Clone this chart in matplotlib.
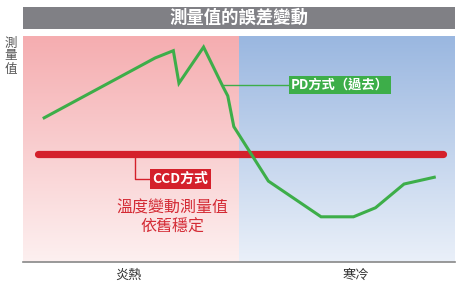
import numpy as np
import matplotlib
matplotlib.use("Agg")
import matplotlib.pyplot as plt
from matplotlib.colors import LinearSegmentedColormap

plt.rcParams['font.family'] = ['Noto Sans CJK TC', 'DejaVu Sans']

# ---- data (x: 0-100 time/temperature axis, y: 0-100 measured value) ----
title = "測量值的誤差變動"
ylabel = "測\n量\n值"
region_labels = ["炎熱", "寒冷"]
region_bounds = [0, 50, 100]
pd_x = [4.9, 30.6, 34.8, 36.1, 41.8, 46.2, 47.4, 48.8, 56.8, 69.0, 76.5, 81.6, 88.2, 95.2]
pd_y = [63.8, 90.3, 93.5, 79.1, 95.1, 77.9, 73.5, 59.9, 35.8, 20.0, 20.0, 24.0, 34.5, 37.5]
ccd_x = [3.5, 97.2]
ccd_y = [47.9, 47.9]
pd_label = "PD方式（過去）"
ccd_label = "CCD方式"
note = "溫度變動測量值\n依舊穩定"

W, H = 461, 288
fig = plt.figure(figsize=(W/100, H/100), dpi=100)
ax = fig.add_axes([23/W, 26/H, 432/W, 226/H])
ax.set_xlim(0, 100)
ax.set_ylim(0, 100)

grad = np.linspace(0, 1, 256).reshape(-1, 1)
pink = LinearSegmentedColormap.from_list("p", ["#FDF0F0", "#F5ADB0"])
blue = LinearSegmentedColormap.from_list("b", ["#EAF0F9", "#9AB7E0"])
ax.imshow(grad, extent=[region_bounds[0], region_bounds[1], 0, 100], origin='lower',
          aspect='auto', cmap=pink, zorder=0)
ax.imshow(grad, extent=[region_bounds[1], region_bounds[2], 0, 100], origin='lower',
          aspect='auto', cmap=blue, zorder=0)

green = "#3DAE49"
red = "#D4202B"

# CCD leader
ax.plot([26.0, 26.0, 30.0], [ccd_y[0], 36.8, 36.8], color=red, lw=1.0, zorder=2)
# PD leader
ax.plot([46.0, 62.0], [78.3, 78.3], color=green, lw=1.0, zorder=2)

ax.plot(ccd_x, ccd_y, color=red, lw=5.2, solid_capstyle='round', zorder=3)
ax.plot(pd_x, pd_y, color=green, lw=2.2, solid_joinstyle='miter', zorder=4)

ax.text(62.0, 78.3, pd_label, color='white', fontsize=9.5, fontweight='bold',
        ha='left', va='center', zorder=5,
        bbox=dict(boxstyle='square,pad=0.17', fc=green, ec='none'))
ax.text(30.0, 36.8, ccd_label, color='white', fontsize=10, fontweight='bold',
        ha='left', va='center', zorder=5,
        bbox=dict(boxstyle='square,pad=0.2', fc=red, ec='none'))
ax.text(34.6, 19.5, note, color="#D42A34", fontsize=11.5, ha='center', va='center',
        linespacing=1.15, zorder=5)

for s in ['top', 'right', 'left']:
    ax.spines[s].set_visible(False)
ax.spines['bottom'].set_color('#888888')
ax.spines['bottom'].set_linewidth(1.2)
ax.set_yticks([])
ax.set_xticks([(region_bounds[0]+region_bounds[1])/2 - 0.5,
               (region_bounds[1]+region_bounds[2])/2 + 2])
ax.set_xticklabels(region_labels, fontsize=9.5, color='#333333')
ax.tick_params(axis='x', length=0, pad=5)

# title bar
fig.patches.append(plt.Rectangle((23/W, 1-29/H), 432/W, 22/H, transform=fig.transFigure,
                                 fc='#808085', ec='none'))
fig.text(239/W, 1-18/H, title, color='white', fontsize=12.5, fontweight='bold',
         ha='center', va='center')
fig.text(11/W, 1-56/H, ylabel, color='#555555', fontsize=9, ha='center', va='center',
         linespacing=1.0)

fig.savefig("out.png", dpi=100)
